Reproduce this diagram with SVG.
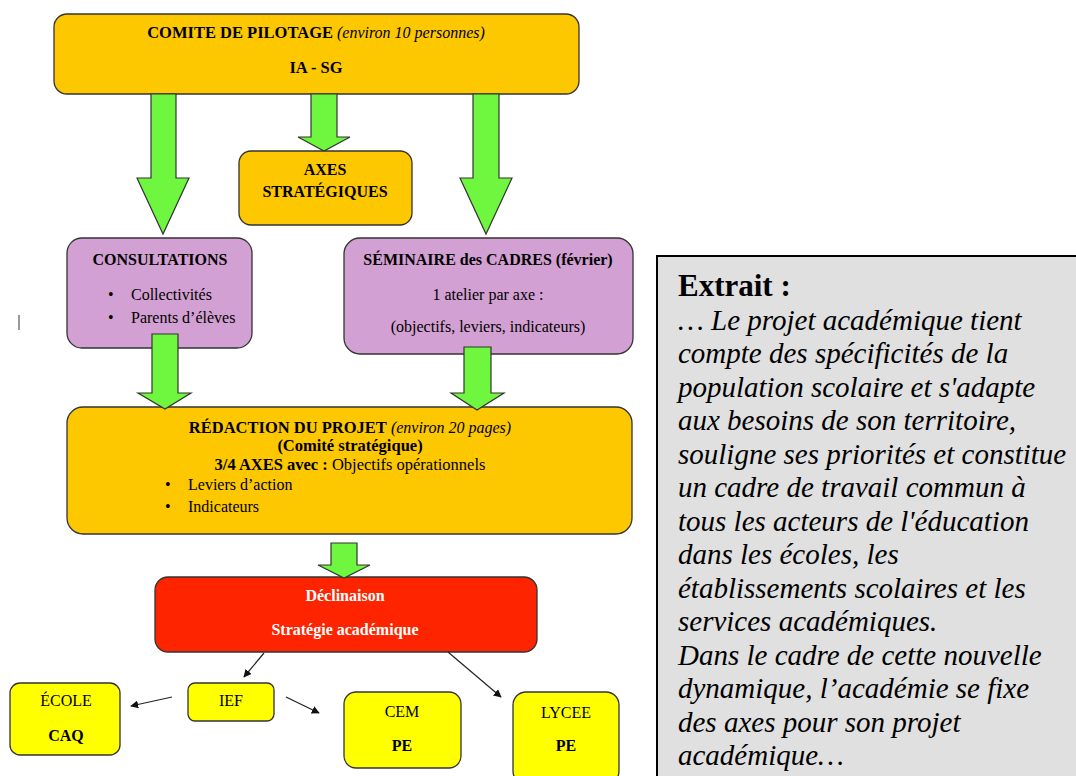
<svg xmlns="http://www.w3.org/2000/svg" width="1076" height="776" viewBox="0 0 1076 776">
<style>
text{font-family:"Liberation Serif","Times New Roman",serif;fill:#000}
.b{font-weight:bold}
.i{font-style:italic}
.c{text-anchor:middle}
.box{stroke:#333;stroke-width:1.3}
.or{fill:#FDC800}
.pu{fill:#D3A0D3}
.ye{fill:#FFFF00}
.rd{fill:#FF2400}
.ga{fill:#6EF73E;stroke:#333;stroke-width:1.2;stroke-linejoin:miter}
.ln{stroke:#222;stroke-width:1.2;fill:none;marker-end:url(#ah)}
.ex{font-size:29px;font-style:italic}
</style>
<defs>
<marker id="ah" viewBox="0 0 10 10" refX="9" refY="5" markerWidth="8" markerHeight="8" markerUnits="userSpaceOnUse" orient="auto">
<path d="M0,0 L10,5 L0,10 z" fill="#111"/>
</marker>
</defs>
<rect width="1076" height="776" fill="#fff"/>
<line x1="19" y1="315" x2="19" y2="330" stroke="#999" stroke-width="2"/>

<g id="comite">
<rect class="box or" x="54" y="14" width="525" height="80" rx="13"/>
<text x="316" y="38" class="c" font-size="16.5"><tspan class="b">COMITE DE PILOTAGE</tspan><tspan class="i" font-size="16" dx="4">(environ 10 personnes)</tspan></text>
<text x="316" y="73" class="c b" font-size="16.5">IA - SG</text>
</g>

<g id="connectors">
<polygon class="ga" points="151,94 176,94 176,178 189,178 163,234 137,178 151,178"/>
<polygon class="ga" points="311,94 337,94 337,137 350,137 324,151 298,137 311,137"/>
<polygon class="ga" points="473,94 499,94 499,178 512,178 486,234 460,178 473,178"/>
</g>

<g id="axes">
<rect class="box or" x="239" y="151" width="173" height="74" rx="12"/>
<text x="325" y="175" class="c b" font-size="16">AXES</text>
<text x="325" y="197" class="c b" font-size="16">STRATÉGIQUES</text>
</g>

<g id="consultations">
<rect class="box pu" x="67" y="238" width="185" height="110" rx="15"/>
<text x="160" y="265" class="c b" font-size="16">CONSULTATIONS</text>
<text x="108" y="300" font-size="16">•</text>
<text x="131" y="300" font-size="16">Collectivités</text>
<text x="108" y="323" font-size="16">•</text>
<text x="131" y="323" font-size="16">Parents d’élèves</text>
</g>

<g id="seminaire">
<rect class="box pu" x="344" y="238" width="289" height="116" rx="16"/>
<text x="488" y="265" class="c b" font-size="16">SÉMINAIRE des CADRES (février)</text>
<text x="488" y="300" class="c" font-size="16">1 atelier par axe :</text>
<text x="488" y="332" class="c" font-size="16">(objectifs, leviers, indicateurs)</text>
</g>

<g id="redaction">
<rect class="box or" x="67" y="407" width="565" height="127" rx="16"/>
<text x="350" y="433" class="c" font-size="16.5"><tspan class="b">RÉDACTION DU PROJET</tspan><tspan class="i" font-size="16" dx="4">(environ 20 pages)</tspan></text>
<text x="350" y="451" class="c b" font-size="16.5">(Comité stratégique)</text>
<text x="350" y="470" class="c" font-size="16.5"><tspan class="b">3/4 AXES avec :</tspan> Objectifs opérationnels</text>
<text x="165" y="490" font-size="16">•</text>
<text x="188" y="490" font-size="16">Leviers d’action</text>
<text x="165" y="512" font-size="16">•</text>
<text x="188" y="512" font-size="16">Indicateurs</text>
</g>

<g id="declinaison">
<rect class="box rd" x="155" y="577" width="382" height="75" rx="13"/>
<text x="345" y="601" class="c b" font-size="16" style="fill:#fff">Déclinaison</text>
<text x="345" y="635" class="c b" font-size="16" style="fill:#fff">Stratégie académique</text>
</g>

<g id="ief">
<rect class="box ye" x="188" y="683" width="86" height="38" rx="7"/>
<text x="231" y="706" class="c" font-size="16">IEF</text>
</g>

<g id="ecole">
<rect class="box ye" x="10" y="683" width="110" height="72" rx="10"/>
<text x="66" y="706" class="c" font-size="16">ÉCOLE</text>
<text x="66" y="741" class="c b" font-size="16">CAQ</text>
</g>

<g id="cem">
<rect class="box ye" x="344" y="692" width="117" height="76" rx="12"/>
<text x="402" y="717" class="c" font-size="16">CEM</text>
<text x="402" y="751" class="c b" font-size="16">PE</text>
</g>

<g id="lycee">
<rect class="box ye" x="513" y="692" width="106" height="92" rx="13"/>
<text x="566" y="718" class="c" font-size="16">LYCEE</text>
<text x="566" y="751" class="c b" font-size="16">PE</text>
</g>

<g id="connectors2">
<polygon class="ga" points="152,334 178,334 178,393 191,393 165,409 138,393 152,393"/>
<polygon class="ga" points="464,347 491,347 491,393 504,393 477,410 451,393 464,393"/>
<polygon class="ga" points="331,543 357,543 357,565 370,565 344,578 318,565 331,565"/>
<line class="ln" x1="264" y1="653" x2="244" y2="677"/>
<line class="ln" x1="448" y1="652" x2="501" y2="697"/>
<line class="ln" x1="172" y1="697" x2="131" y2="706"/>
<line class="ln" x1="286" y1="697" x2="319" y2="713"/>
</g>

<g id="extrait">
<rect x="657" y="256" width="430" height="530" fill="#E0E0E0" stroke="#000" stroke-width="2"/>
<text x="678" y="296" class="b" font-size="31">Extrait :</text>
<text class="ex" x="678" y="330">… Le projet académique tient</text>
<text class="ex" x="678" y="363">compte des spécificités de la</text>
<text class="ex" x="678" y="397">population scolaire et s'adapte</text>
<text class="ex" x="678" y="430">aux besoins de son territoire,</text>
<text class="ex" x="678" y="464">souligne ses priorités et constitue</text>
<text class="ex" x="678" y="497">un cadre de travail commun à</text>
<text class="ex" x="678" y="531">tous les acteurs de l'éducation</text>
<text class="ex" x="678" y="564">dans les écoles, les</text>
<text class="ex" x="678" y="598">établissements scolaires et les</text>
<text class="ex" x="678" y="631">services académiques.</text>
<text class="ex" x="678" y="665">Dans le cadre de cette nouvelle</text>
<text class="ex" x="678" y="698">dynamique, l’académie se fixe</text>
<text class="ex" x="678" y="732">des axes pour son projet</text>
<text class="ex" x="678" y="765">académique…</text>
</g>
</svg>
